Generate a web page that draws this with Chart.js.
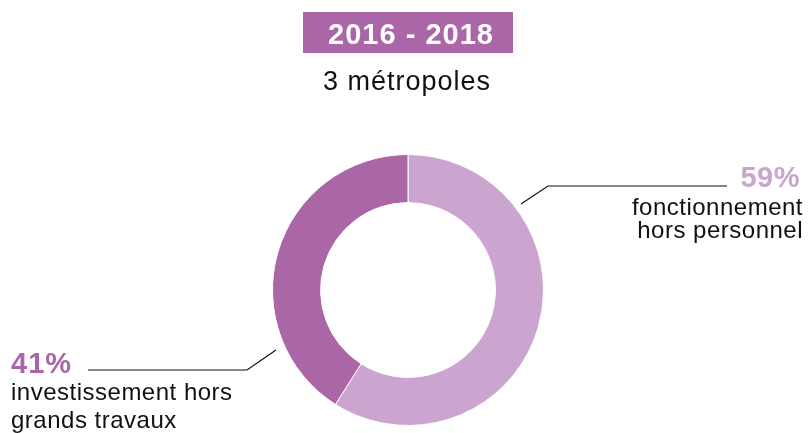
<!DOCTYPE html>
<html>
<head>
<meta charset="utf-8">
<script src="https://cdn.jsdelivr.net/npm/chart.js@4/dist/chart.umd.min.js"></script>
<style>
  html, body { margin: 0; padding: 0; background: #fff; }
  #wrap { position: relative; width: 808px; height: 433px; }
</style>
</head>
<body>
<div id="wrap"><canvas id="donut" width="808" height="433"></canvas></div>
<script>
var period = '2016 - 2018';
var subtitle = '3 métropoles';
var categories = ['fonctionnement hors personnel', 'investissement hors grands travaux'];
var shares = [59, 41];
var sliceColors = ['#cba5cf', '#aa66a6'];

var FONT = '"Liberation Sans", Arial, sans-serif';

// draws header box, subtitle and the two callouts with leader lines
var calloutPlugin = {
  id: 'callouts',
  afterDraw: function (chart) {
    var ctx = chart.ctx;
    var arc = chart.getDatasetMeta(0).data[0];
    var cx = arc.x, cy = arc.y;
    ctx.save();

    // header
    ctx.fillStyle = sliceColors[1];
    ctx.fillRect(303, 12, 210, 41);
    ctx.fillStyle = '#fff';
    ctx.font = 'bold 29px ' + FONT;
    ctx.textAlign = 'center';
    ctx.textBaseline = 'alphabetic';
    ctx.letterSpacing = '1px';
    ctx.fillText(period, 411, 44);
    ctx.fillStyle = '#111';
    ctx.font = '27px ' + FONT;
    ctx.fillText(subtitle, 407, 90);

    ctx.strokeStyle = '#111';
    ctx.lineWidth = 1.2;

    // right callout
    ctx.beginPath();
    ctx.moveTo(cx + 113, cy - 86);
    ctx.lineTo(cx + 140, cy - 104);
    ctx.lineTo(727, cy - 104);
    ctx.stroke();
    ctx.textAlign = 'right';
    ctx.fillStyle = sliceColors[0];
    ctx.letterSpacing = '0.5px';
    ctx.font = 'bold 29px ' + FONT;
    ctx.fillText(shares[0] + '%', 800, 187);
    ctx.fillStyle = '#111';
    ctx.font = '24px ' + FONT;
    ctx.fillText('fonctionnement', 803, 215);
    ctx.fillText('hors personnel', 803, 238);

    // left callout
    ctx.beginPath();
    ctx.moveTo(cx - 132, cy + 60);
    ctx.lineTo(cx - 161, cy + 80);
    ctx.lineTo(88, cy + 80);
    ctx.stroke();
    ctx.textAlign = 'left';
    ctx.fillStyle = sliceColors[1];
    ctx.letterSpacing = '1px';
    ctx.font = 'bold 29px ' + FONT;
    ctx.fillText(shares[1] + '%', 11, 373);
    ctx.fillStyle = '#111';
    ctx.letterSpacing = '0.5px';
    ctx.font = '24px ' + FONT;
    ctx.fillText('investissement hors', 11, 400);
    ctx.fillText('grands travaux', 11, 428);
    ctx.restore();
  }
};

var config = {
  type: 'doughnut',
  data: {
    labels: categories,
    datasets: [{
      data: shares,
      backgroundColor: sliceColors,
      borderColor: '#fff',
      borderWidth: 1
    }]
  },
  options: {
    responsive: false,
    animation: false,
    cutout: '64.5%',
    layout: { padding: { top: 154, bottom: 7, left: 8, right: 0 } },
    plugins: {
      legend: { display: false },
      tooltip: { enabled: false }
    }
  },
  plugins: [calloutPlugin]
};

var ctx = document.getElementById('donut').getContext('2d');
window.donutChart = new Chart(ctx, config);
</script>
</body>
</html>
